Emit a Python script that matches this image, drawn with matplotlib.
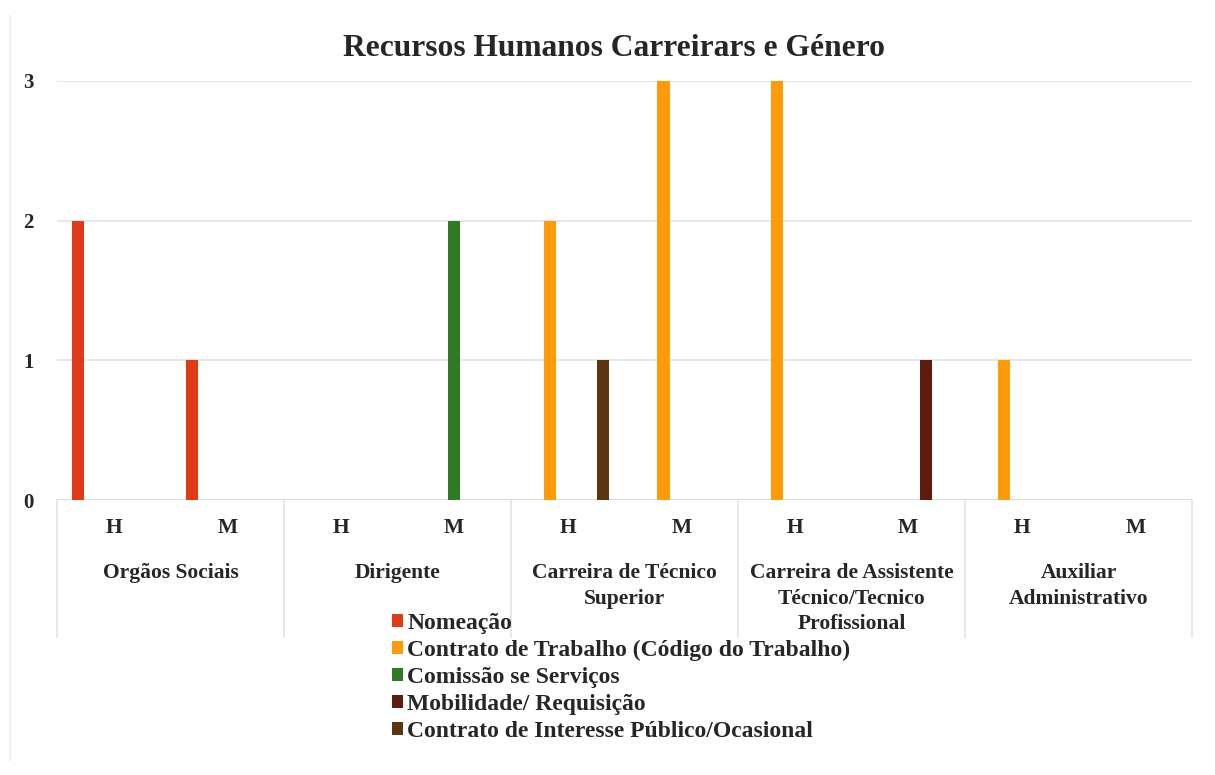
import numpy as np
import matplotlib
matplotlib.use("Agg")
import matplotlib.pyplot as plt
from matplotlib.patches import Patch

plt.rcParams['font.family'] = ['Liberation Serif', 'DejaVu Serif']

title = "Recursos Humanos Carreirars e Género"
genders = ["H", "M", "H", "M", "H", "M", "H", "M", "H", "M"]
categories = ["Orgãos Sociais", "Dirigente", "Carreira de Técnico\nSuperior",
              "Carreira de Assistente\nTécnico/Tecnico\nProfissional",
              "Auxiliar\nAdministrativo"]
series_names = ["Nomeação", "Contrato de Trabalho (Código do Trabalho)",
                "Comissão se Serviços", "Mobilidade/ Requisição",
                "Contrato de Interesse Público/Ocasional"]
nomeacao = [2, 1, 0, 0, 0, 0, 0, 0, 0, 0]
contrato_trabalho = [0, 0, 0, 0, 2, 3, 3, 0, 1, 0]
comissao = [0, 0, 0, 2, 0, 0, 0, 0, 0, 0]
mobilidade = [0, 0, 0, 0, 0, 0, 0, 1, 0, 0]
contrato_interesse = [0, 0, 0, 0, 1, 0, 0, 0, 0, 0]
yticks = [0, 1, 2, 3]

colors = ["#E03A16", "#FF9A0A", "#2E7A27", "#5E1A0C", "#5C3510"]
series = [nomeacao, contrato_trabalho, comissao, mobilidade, contrato_interesse]

fig = plt.figure(figsize=(12.15, 7.75), dpi=100)
L, R, B, T = 57, 1192, 500, 81
W, H = 1215, 775
ax = fig.add_axes([L / W, 1 - B / H, (R - L) / W, (B - T) / H])

x = np.arange(len(genders))
step = 0.156
bw = 0.108
for i, (vals, c) in enumerate(zip(series, colors)):
    ax.bar(x + (i - 2) * step, vals, width=bw, color=c, zorder=3)

ax.set_xlim(-0.5, len(genders) - 0.5)
ax.set_ylim(0, 3)
ax.set_yticks(yticks)
ax.set_yticklabels([str(v) for v in yticks], fontsize=15, fontweight='bold', color='#262626')
ax.tick_params(axis='y', length=0, pad=17)
ax.set_xticks([])
ax.grid(axis='y', color='#E3E3E3', linewidth=1.2, zorder=0)
for s in ax.spines.values():
    s.set_visible(False)
ax.axhline(0, color='#D9D9D9', linewidth=1.2, zorder=2)

tr = ax.get_xaxis_transform()
px = 1.0 / (B - T)
for xi, g in zip(x, genders):
    ax.text(xi, -28 * px, g, transform=tr, ha='center', va='center',
            fontsize=15.5, fontweight='bold', color='#262626')
for k, cat in enumerate(categories):
    ax.text(2 * k + 0.5, -63 * px, cat, transform=tr, ha='center', va='top',
            fontsize=15.5, fontweight='bold', color='#262626', linespacing=1.37)
for k in range(len(categories) + 1):
    ax.plot([2 * k - 0.5, 2 * k - 0.5], [0, -137 * px], transform=tr,
            color='#E3E3E3', linewidth=1.2, clip_on=False)

fig.text(0.505, 1 - 49 / H, title, ha='center', va='center', fontsize=22.7,
         fontweight='bold', color='#262626')

fig.add_artist(plt.Line2D([10 / W, 10 / W], [0.02, 0.98], color='#EFEFEF', linewidth=1.5))

handles = [Patch(facecolor=c, edgecolor='none') for c in colors]
leg = fig.legend(handles, series_names, loc='upper left',
                 bbox_to_anchor=(392 / W, 1 - 613 / H), frameon=False,
                 prop={'family': ['Liberation Serif'], 'weight': 'bold', 'size': 17},
                 handlelength=0.45, handleheight=0.45, handletextpad=0.2,
                 labelspacing=0.25, borderpad=0, borderaxespad=0)
for t in leg.get_texts():
    t.set_color('#262626')

fig.savefig("out.png", dpi=100)
